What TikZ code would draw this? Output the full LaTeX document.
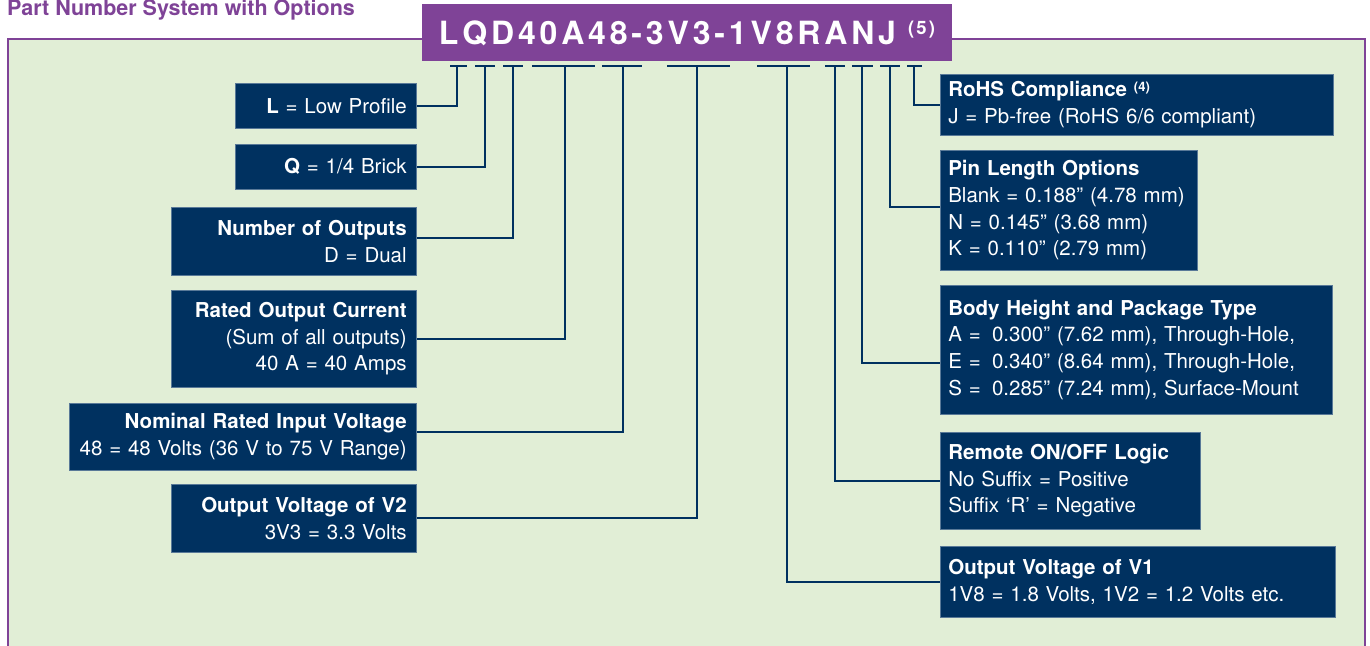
\documentclass[tikz,border=0pt]{standalone}
\usepackage{fontspec}
\setmainfont{TeX Gyre Heros}
\newfontfamily\pnfont[LetterSpace=12]{TeX Gyre Heros}
\definecolor{pnpurple}{RGB}{127,67,151}
\definecolor{pnnavy}{RGB}{0,49,96}
\definecolor{pngreen}{RGB}{225,238,214}
\tikzset{
		% Boxes left of the number are right aligned, boxes right of it left aligned
		left box/.style={fill=pnnavy,draw=pnnavy!65!white,line width=0.6pt,text=white,anchor=north east,align=right,inner xsep=10pt,inner ysep=0pt,font=\fontsize{20.5}{26.7}\selectfont},
		right box/.style={fill=pnnavy,draw=pnnavy!65!white,line width=0.6pt,text=white,anchor=north west,align=left,inner xsep=8pt,inner ysep=0pt,font=\fontsize{20.5}{26.7}\selectfont},
		lead/.style={draw=pnnavy,line width=2.2pt}
	}
\begin{document}
\begin{tikzpicture}[x=1pt,y=-1pt]
		\clip (0,0) rectangle (1370,645);
		\draw[pnpurple,line width=2.5pt,fill=pngreen] (8,39) rectangle (1365,700);
		\node[anchor=base west,inner sep=0pt,text=pnpurple,font=\bfseries\fontsize{21.5}{21.5}\selectfont] (title) at (7,15) {Part Number System with Options};
		\node[fill=pnpurple,text=white,minimum width=530pt,minimum height=57pt,inner sep=0pt,text height=23pt,text depth=0pt,font=\pnfont\bfseries\fontsize{32}{32}\selectfont] (pn) at (687,32.5)
			{LQD40A48-3V3-1V8RANJ\hspace{12pt}\raisebox{10pt}{\fontsize{18.5}{18.5}\selectfont(5)}};
		% left column
		\node[left box,text width=161pt,minimum height=45pt] (bL) at (417,83) {\textbf{L} = Low Profile};
		\node[left box,text width=161pt,minimum height=45pt] (bQ) at (417,144) {\textbf{Q} = 1/4 Brick};
		\node[left box,text width=225pt,minimum height=68pt] (bOut) at (417,207) {\textbf{Number of Outputs}\\D = Dual};
		\node[left box,text width=225pt,minimum height=97pt] (bAmp) at (417,290) {\textbf{Rated Output Current}\\(Sum of all outputs)\\40 A = 40 Amps};
		\node[left box,text width=327pt,minimum height=67pt] (bVin) at (417,403) {\textbf{Nominal Rated Input Voltage}\\\makebox[327pt][r]{48 = 48 Volts (36 V to 75 V Range)}};
		\node[left box,text width=225pt,minimum height=68pt] (bVtwo) at (417,484) {\textbf{Output Voltage of V2}\\3V3 = 3.3 Volts};
		% right column
		\node[right box,text width=377pt,minimum height=61pt] (bJ) at (940,74) {\textbf{RoHS Compliance \raisebox{5pt}{\fontsize{13}{13}\selectfont(4)}}\\J = Pb-free (RoHS 6/6 compliant)};
		\node[right box,text width=241pt,minimum height=120pt] (bPin) at (940,150) {\textbf{Pin Length Options}\\Blank = 0.188” (4.78 mm)\\N = 0.145” (3.68 mm)\\K = 0.110” (2.79 mm)};
		\node[right box,text width=376pt,minimum height=129pt] (bPkg) at (940,285) {\textbf{Body Height and Package Type}\\A =\hspace{0.55em}0.300” (7.62 mm), Through-Hole,\\E =\hspace{0.55em}0.340” (8.64 mm), Through-Hole,\\S =\hspace{0.55em}0.285” (7.24 mm), Surface-Mount};
		\node[right box,text width=244pt,minimum height=97pt] (bR) at (940,432) {\textbf{Remote ON/OFF Logic}\\No Suffix = Positive\\Suffix ‘R’ = Negative};
		\node[right box,text width=379pt,minimum height=71pt] (bVone) at (940,546) {\textbf{Output Voltage of V1}\\1V8 = 1.8 Volts, 1V2 = 1.2 Volts etc.};
		% bars under the part number
		\foreach \nm/\a/\b/\v in {tL/450/467/457,tQ/475/495/485,tD/503/523/513,tAmp/532/595/565,tVin/602/642/623,tVtwo/667/730/697,tVone/757/810/787,tR/825/845/835,tPkg/852/873/862,tPin/880/900/890,tJ/907/922/914}{
			\draw[lead] (\a,66) -- (\b,66);
			\coordinate (\nm) at (\v,66);
		}
		\draw[lead] (tL) |- (bL.east);
		\draw[lead] (tQ) |- (bQ.east);
		\draw[lead] (tD) |- ([yshift=3pt]bOut.east);
		\draw[lead] (tAmp) |- (bAmp.east);
		\draw[lead] (tVin) |- ([yshift=4.5pt]bVin.east);
		\draw[lead] (tVtwo) |- (bVtwo.east);
		\draw[lead] (tJ) |- (bJ.west);
		\draw[lead] (tPin) |- ([yshift=3pt]bPin.west);
		\draw[lead] (tPkg) |- ([yshift=-13pt]bPkg.west);
		\draw[lead] (tR) |- (bR.west);
		\draw[lead] (tVone) |- (bVone.west);
	\end{tikzpicture}
\end{document}
